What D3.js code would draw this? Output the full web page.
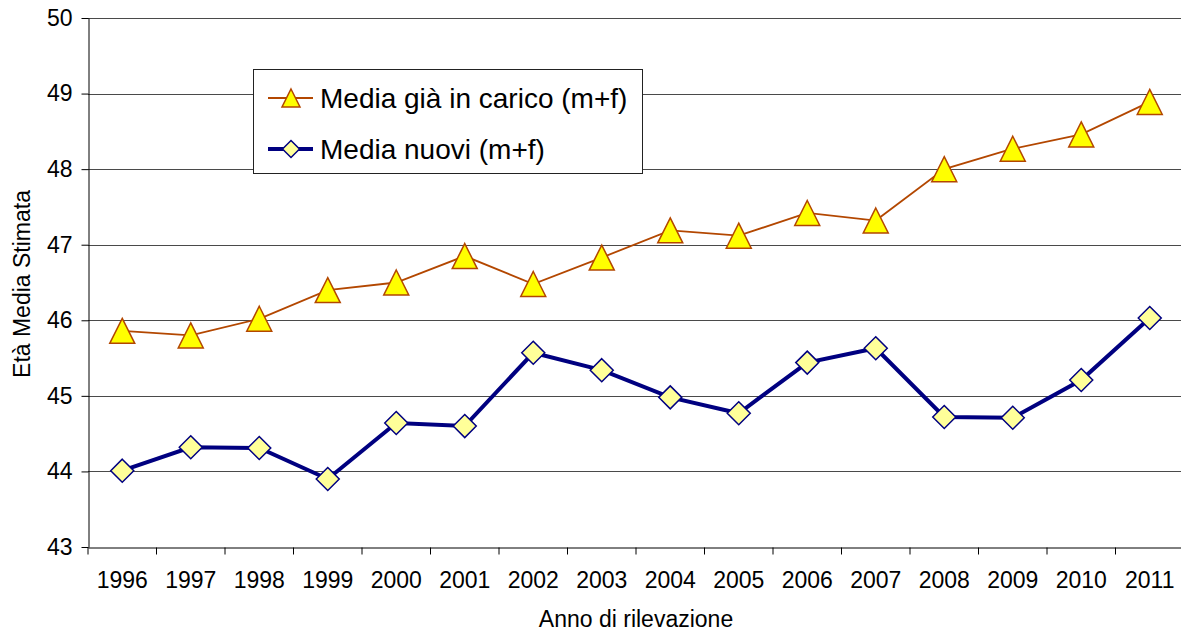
<!DOCTYPE html>
<html>
<head>
<meta charset="utf-8">
<script src="https://cdn.jsdelivr.net/npm/d3@7"></script>
<style>
  body { margin: 0; background: #fff; }
  svg { display: block; font-family: "Liberation Sans", Arial, sans-serif; }
</style>
</head>
<body>
<svg id="chart"></svg>
<script>
// data
const years = ["1996", "1997", "1998", "1999", "2000", "2001", "2002", "2003",
               "2004", "2005", "2006", "2007", "2008", "2009", "2010", "2011"];
const mediaGiaInCarico = [45.86, 45.80, 46.02, 46.40, 46.50, 46.85, 46.48, 46.83,
                          47.19, 47.12, 47.42, 47.32, 48.00, 48.27, 48.46, 48.89];
const mediaNuovi = [44.01, 44.32, 44.31, 43.90, 44.64, 44.60, 45.57, 45.34,
                    44.98, 44.77, 45.44, 45.63, 44.72, 44.71, 45.21, 46.03];
const yTicks = [43, 44, 45, 46, 47, 48, 49, 50];
const seriesNames = ["Media già in carico (m+f)", "Media nuovi (m+f)"];

const width = 1181, height = 632;
const margin = { left: 88, top: 18, right: -3, bottom: 85 };
const fontFamily = "Liberation Sans, Arial, sans-serif";

const svg = d3.select("#chart")
    .attr("width", width)
    .attr("height", height);

const x = d3.scaleBand()
    .domain(years)
    .range([margin.left, width - margin.right])
    .padding(0);

const y = d3.scaleLinear()
    .domain([43, 50])
    .range([height - margin.bottom, margin.top]);

const cx = d => x(d) + x.bandwidth() / 2;

// gridlines
svg.append("g")
    .selectAll("line")
    .data(yTicks.filter(v => v > 43))
    .enter()
    .append("line")
    .attr("x1", margin.left)
    .attr("x2", width - margin.right)
    .attr("y1", d => Math.round(y(d)) + 0.5)
    .attr("y2", d => Math.round(y(d)) + 0.5)
    .attr("stroke", "#4a4a4a")
    .attr("stroke-width", 1);

// y axis
const yAxis = svg.append("g")
    .attr("transform", `translate(${margin.left + 0.5},0)`)
    .call(d3.axisLeft(y).tickValues(yTicks).tickFormat(d3.format("d"))
        .tickSize(7).tickPadding(9).tickSizeOuter(0));
yAxis.selectAll("text").attr("font-size", 23).attr("fill", "#000")
    .attr("font-family", fontFamily);
yAxis.selectAll("line, path").attr("stroke", "#000");

// x axis: labels in the middle of each band, ticks between bands
const xAxis = svg.append("g")
    .attr("transform", `translate(0,${Math.round(y(43)) + 0.5})`)
    .call(d3.axisBottom(x).tickSize(0).tickPadding(24).tickSizeOuter(0));
xAxis.select(".domain").attr("stroke", "#000");
xAxis.selectAll("text").attr("font-size", 23).attr("fill", "#000")
    .attr("font-family", fontFamily);
xAxis.selectAll(".tick")
    .append("line")
    .attr("x1", -x.bandwidth() / 2)
    .attr("x2", -x.bandwidth() / 2)
    .attr("y1", 0)
    .attr("y2", 7)
    .attr("stroke", "#000");

// axis titles
svg.append("text")
    .attr("x", 636)
    .attr("y", 627)
    .attr("text-anchor", "middle")
    .attr("font-size", 23)
    .text("Anno di rilevazione");

svg.append("text")
    .attr("transform", "translate(30,284) rotate(-90)")
    .attr("text-anchor", "middle")
    .attr("font-size", 23)
    .text("Età Media Stimata");

const orange = "#B34700", navy = "#000080";
const diamondPath = s => `M0,${-s}L${s},0L0,${s}L${-s},0Z`;
const trianglePath = s => `M0,${-s}L${s},${s}L${-s},${s}Z`;

const line = d3.line().x((d, i) => cx(years[i])).y(d => y(d));

// series 1: già in carico
svg.append("path")
    .datum(mediaGiaInCarico)
    .attr("d", line)
    .attr("fill", "none")
    .attr("stroke", orange)
    .attr("stroke-width", 1.8);

svg.append("g")
    .selectAll("path")
    .data(mediaGiaInCarico)
    .enter()
    .append("path")
    .attr("transform", (d, i) => `translate(${cx(years[i])},${y(d)})`)
    .attr("d", trianglePath(12.5))
    .attr("fill", "#FFFF00")
    .attr("stroke", orange)
    .attr("stroke-width", 1.5);

// series 2: nuovi
svg.append("path")
    .datum(mediaNuovi)
    .attr("d", line)
    .attr("fill", "none")
    .attr("stroke", navy)
    .attr("stroke-width", 4);

svg.append("g")
    .selectAll("path")
    .data(mediaNuovi)
    .enter()
    .append("path")
    .attr("transform", (d, i) => `translate(${cx(years[i])},${y(d)})`)
    .attr("d", diamondPath(11.5))
    .attr("fill", "#FFFF99")
    .attr("stroke", navy)
    .attr("stroke-width", 1.5);

// legend
const legend = svg.append("g");
legend.append("rect")
    .attr("x", 253.5).attr("y", 69.5)
    .attr("width", 389).attr("height", 104)
    .attr("fill", "#fff")
    .attr("stroke", "#222")
    .attr("stroke-width", 1);

const legendRows = [
    { name: seriesNames[0], color: orange, width: 1.8, shape: trianglePath(9), fill: "#FFFF00" },
    { name: seriesNames[1], color: navy, width: 4, shape: diamondPath(8.5), fill: "#FFFF99" }
];
legendRows.forEach((row, i) => {
    const ly = 98 + i * 51;
    legend.append("line")
        .attr("x1", 268).attr("x2", 313)
        .attr("y1", ly).attr("y2", ly)
        .attr("stroke", row.color)
        .attr("stroke-width", row.width);
    legend.append("path")
        .attr("transform", `translate(291,${ly})`)
        .attr("d", row.shape)
        .attr("fill", row.fill)
        .attr("stroke", row.color)
        .attr("stroke-width", 1.5);
    legend.append("text")
        .attr("x", 320)
        .attr("y", ly + 10)
        .attr("font-size", 28)
        .text(row.name);
});
</script>
</body>
</html>
